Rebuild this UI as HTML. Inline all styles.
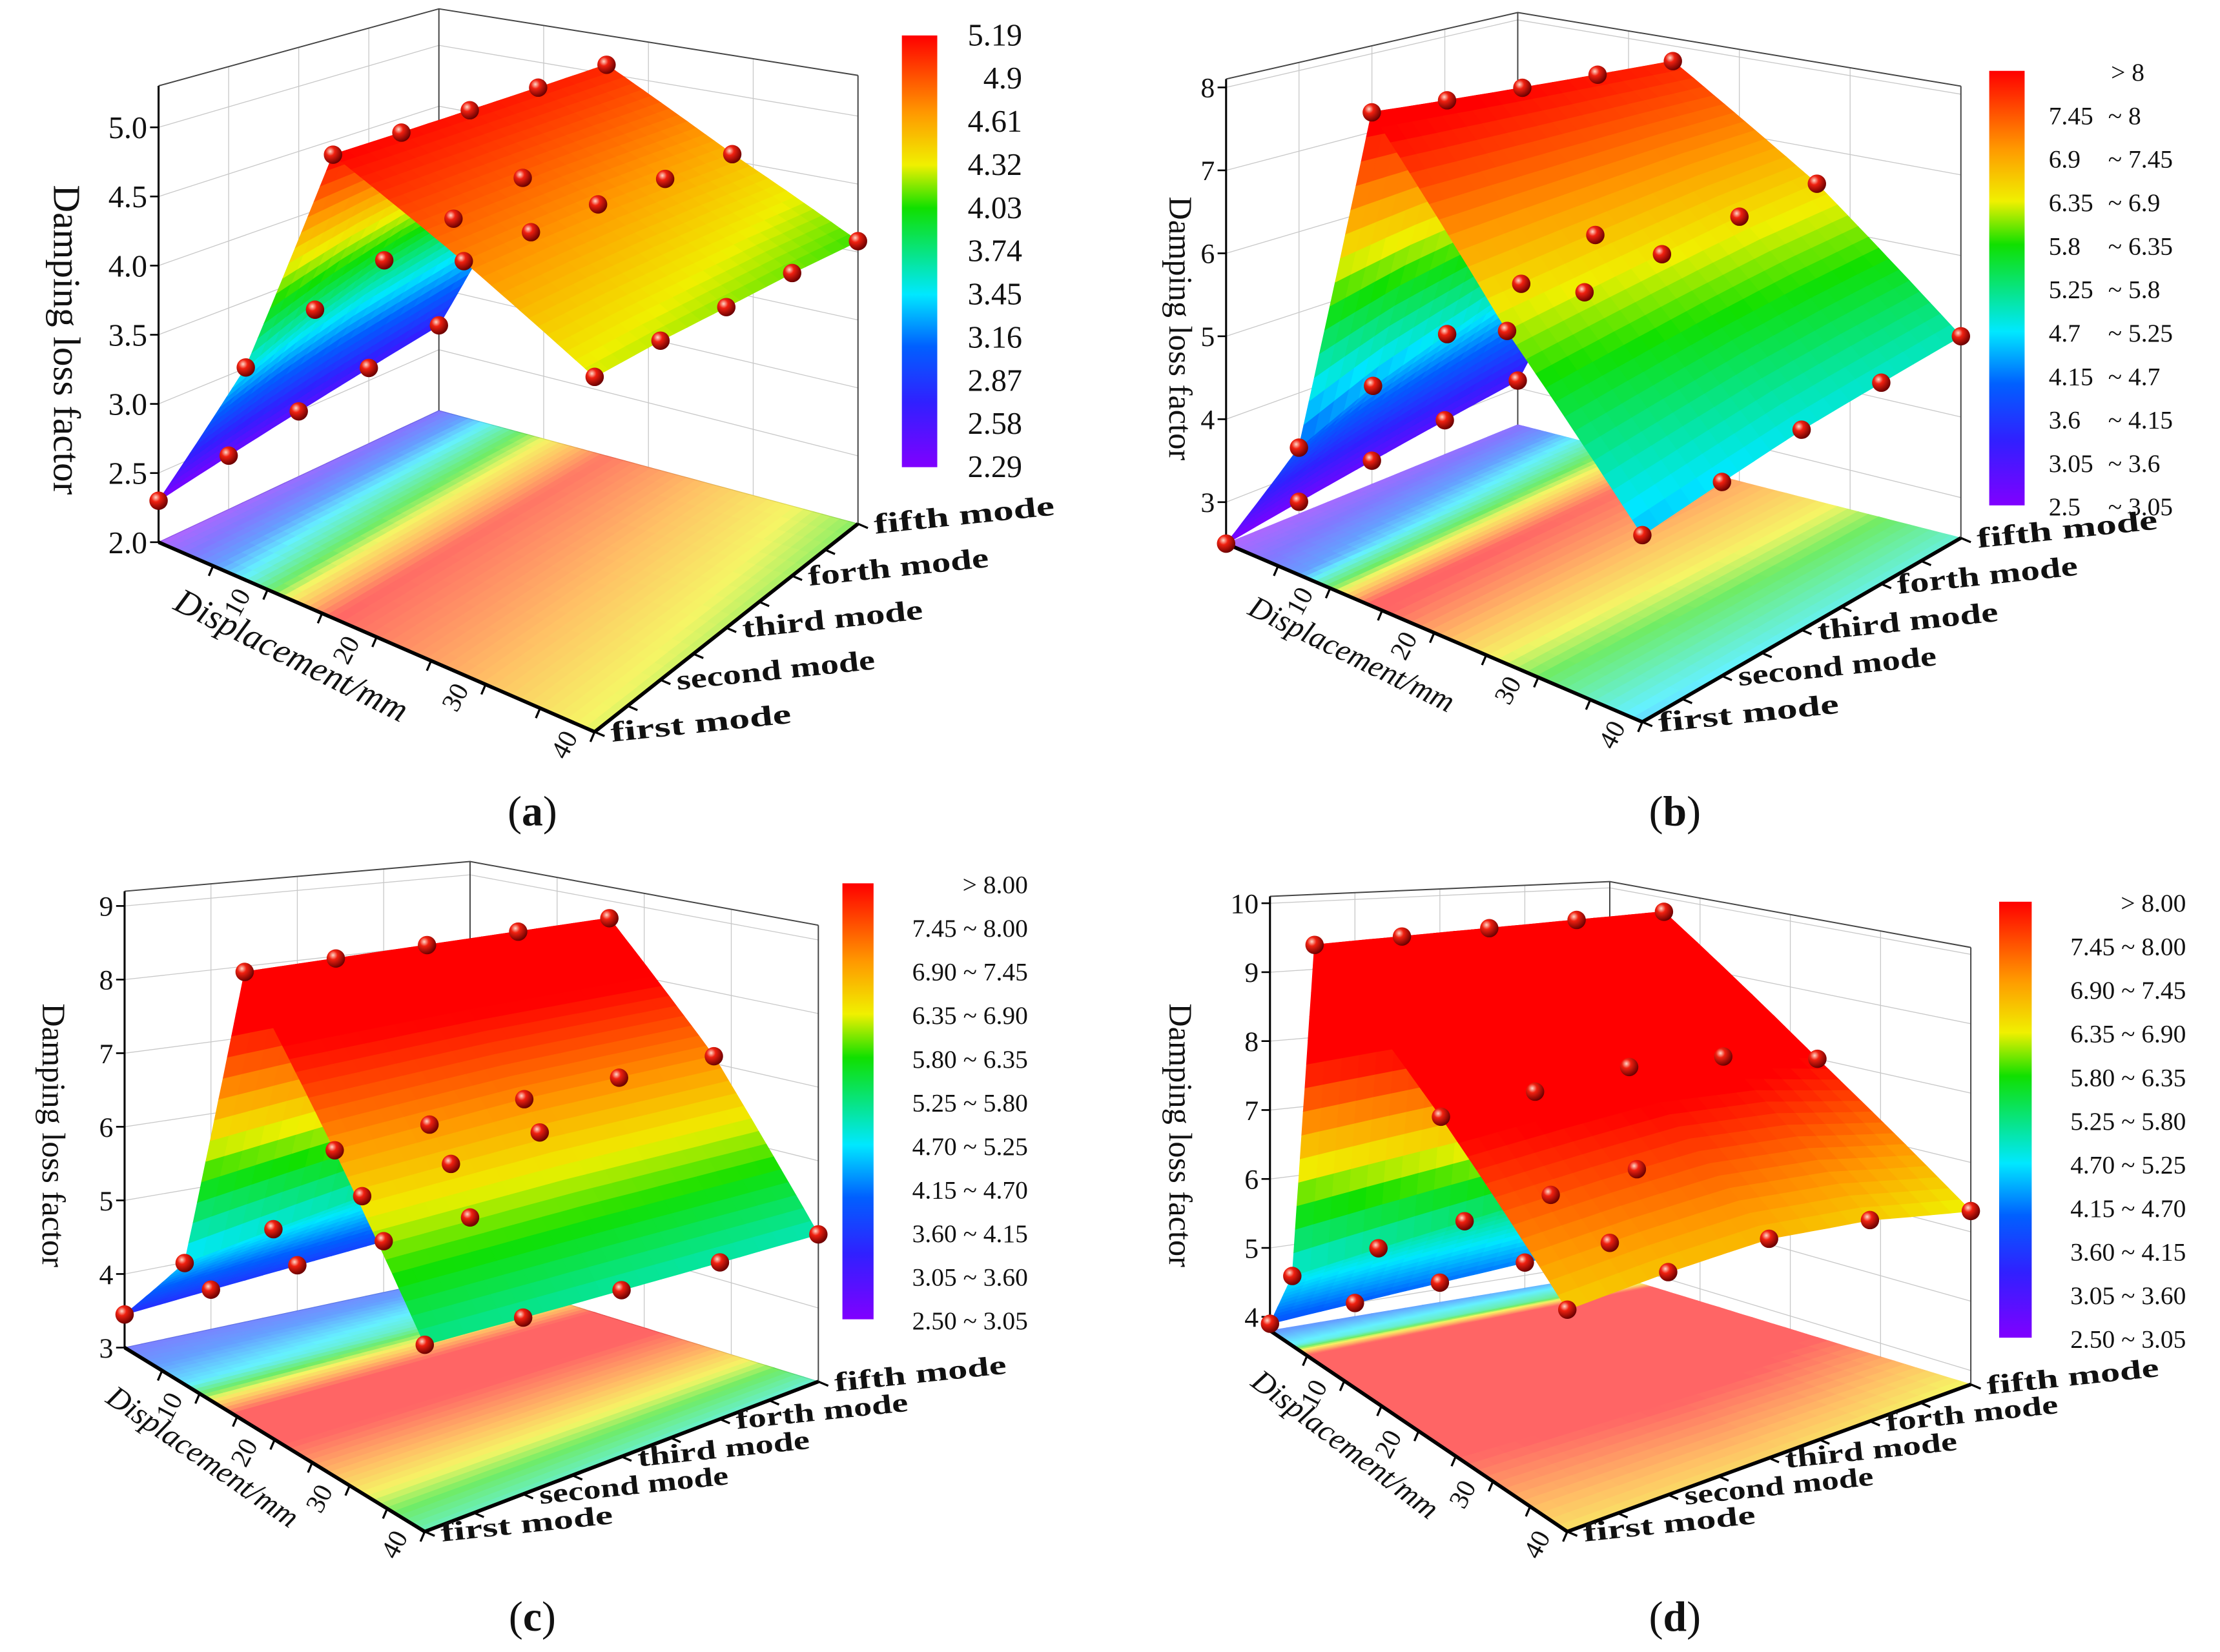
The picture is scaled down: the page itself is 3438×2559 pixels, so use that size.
<!DOCTYPE html>
<html><head><meta charset="utf-8"><style>
html,body{margin:0;padding:0;background:#fff}
svg{display:block}
text{font-family:"Liberation Serif",serif;fill:#111}
</style></head><body>
<svg id="fig" xmlns="http://www.w3.org/2000/svg" width="3438" height="2559" viewBox="0 0 1568 1167">
<defs>
<radialGradient id="ball" cx="35%" cy="32%" r="70%">
<stop offset="0" stop-color="#ffd8c8"/><stop offset="0.35" stop-color="#f02010"/><stop offset="1" stop-color="#6a0000"/>
</radialGradient>
<linearGradient id="cbar" x1="0" y1="1" x2="0" y2="0">
<stop offset="0" stop-color="#8000ff"/><stop offset="0.15" stop-color="#3020ff"/><stop offset="0.28" stop-color="#0060ff"/><stop offset="0.4" stop-color="#00e8ff"/><stop offset="0.6" stop-color="#10e000"/><stop offset="0.7" stop-color="#f0f000"/><stop offset="0.82" stop-color="#ff9900"/><stop offset="1" stop-color="#ff0000"/>
</linearGradient>
</defs>
</svg>
<script>
const modeLabels = ["first mode","second mode","third mode","forth mode","fifth mode"];
const dispTickValues = [10,20,30,40];

const dispA = [0, 8, 16, 28, 40];
const valuesA = [
 [2.30, 3.50, 5.19, 4.75, 4.28],
 [2.40, 3.70, 5.16, 4.72, 4.25],
 [2.50, 3.85, 5.13, 4.68, 4.20],
 [2.60, 3.95, 5.10, 4.62, 4.15],
 [2.70, 4.05, 5.07, 4.55, 4.08]];
const zTicksA = [2.0, 2.5, 3.0, 3.5, 4.0, 4.5, 5.0];
const zTickLabelsA = ["2.0","2.5","3.0","3.5","4.0","4.5","5.0"];
const cbarLabelsA = ["5.19","4.9","4.61","4.32","4.03","3.74","3.45","3.16","2.87","2.58","2.29"];

const dispB = [0, 7, 14, 27, 40];
const valuesB = [
 [2.50, 4.00, 8.20, 6.20, 4.50],
 [2.65, 4.40, 8.10, 6.30, 4.65],
 [2.80, 4.70, 8.00, 6.40, 4.80],
 [2.95, 5.00, 7.90, 6.50, 4.90],
 [3.10, 5.30, 7.80, 6.55, 5.00]];
const zTicksB = [3, 4, 5, 6, 7, 8];
const zTickLabelsB = ["3","4","5","6","7","8"];
const cbarLabelsB = [["> 8",""],["7.45","~ 8"],["6.9","~ 7.45"],["6.35","~ 6.9"],["5.8","~ 6.35"],["5.25","~ 5.8"],["4.7","~ 5.25"],["4.15","~ 4.7"],["3.6","~ 4.15"],["3.05","~ 3.6"],["2.5","~ 3.05"]];

const dispC = [0, 8, 16, 28, 40];
const valuesC = [
 [3.45, 4.60, 8.75, 7.00, 5.20],
 [3.55, 4.80, 8.75, 7.05, 5.15],
 [3.65, 5.00, 8.75, 7.10, 5.10],
 [3.75, 5.20, 8.75, 7.10, 5.05],
 [3.85, 5.40, 8.75, 7.10, 5.00]];
const zTicksC = [3, 4, 5, 6, 7, 8, 9];
const zTickLabelsC = ["3","4","5","6","7","8","9"];

const dispD = [0, 3, 6, 23, 40];
const valuesD = [
 [3.90, 4.80, 9.70, 8.20, 6.60],
 [4.00, 5.00, 9.72, 8.30, 6.70],
 [4.10, 5.20, 9.74, 8.40, 6.75],
 [4.20, 5.40, 9.76, 8.30, 6.60],
 [4.30, 5.60, 9.78, 8.00, 6.30]];
const zTicksD = [4, 5, 6, 7, 8, 9, 10];
const zTickLabelsD = ["4","5","6","7","8","9","10"];
const cbarLabelsCD = ["> 8.00","7.45 ~ 8.00","6.90 ~ 7.45","6.35 ~ 6.90","5.80 ~ 6.35","5.25 ~ 5.80","4.70 ~ 5.25","4.15 ~ 4.70","3.60 ~ 4.15","3.05 ~ 3.60","2.50 ~ 3.05"];

const NS="http://www.w3.org/2000/svg";
const svg=document.getElementById('fig');
function mk(tag,attrs,parent){const e=document.createElementNS(NS,tag);for(const k in attrs)e.setAttribute(k,attrs[k]);(parent||svg).appendChild(e);return e;}

const stops=[[0,[128,0,255]],[0.15,[48,32,255]],[0.28,[0,96,255]],[0.4,[0,232,255]],[0.6,[16,224,0]],[0.7,[240,240,0]],[0.82,[255,153,0]],[1,[255,0,0]]];
function cmap(t){t=Math.max(0,Math.min(1,t));for(let i=1;i<stops.length;i++){if(t<=stops[i][0]){const a=stops[i-1],b=stops[i];const f=(t-a[0])/(b[0]-a[0]);const c=a[1].map((v,k)=>Math.round(v+(b[1][k]-v)*f));return 'rgb('+c.join(',')+')';}}return 'rgb(255,0,0)';}

const panels=[
 {id:'a',disp:dispA,vals:valuesA,zmin:2.0,ztop:5.3,cmin:2.29,cmax:5.19,A:[112,383],B:[420,517],C:[606,370],D:[310,290],k:[97.7,110,96,86],zTicks:zTicksA,zLab:zTickLabelsA,zfs:22,
  ztitle:[38,240,27],cap:[376,583],cb:{x:637,y:25,w:25,h:305,type:'a',lx:722}},
 {id:'b',disp:dispB,vals:valuesB,zmin:2.5,ztop:8.1,cmin:2.5,cmax:8,A:[866,384],B:[1160,510],C:[1385,380],D:[1072,300],k:[58.6,66,57,52],zTicks:zTicksB,zLab:zTickLabelsB,zfs:20,
  ztitle:[826,232,23],cap:[1183,583],cb:{x:1405,y:50,w:25,h:307,type:'b',lx:1447}},
 {id:'c',disp:dispC,vals:valuesC,zmin:3,ztop:9.2,cmin:2.5,cmax:8,A:[88,952],B:[300,1082],C:[578,976],D:[332,900],k:[52,60,52,47],zTicks:zTicksC,zLab:zTickLabelsC,zfs:20,
  ztitle:[30,802,23],cap:[376,1152],cb:{x:595,y:624,w:22,h:308,type:'c',lx:726}},
 {id:'d',disp:dispD,vals:valuesD,zmin:3.8,ztop:10.1,cmin:2.5,cmax:8,A:[897,940],B:[1107,1082],C:[1392,978],D:[1137,900],k:[48.7,56,49,44],zTicks:zTicksD,zLab:zTickLabelsD,zfs:20,
  ztitle:[826,802,23],cap:[1183,1152],cb:{x:1412,y:637,w:23,h:308,type:'d',lx:1544}}
];

function P(p,d,m,z){const u=d/40,v=(m-1)/4;const w=[(1-u)*(1-v),u*(1-v),u*v,(1-u)*v];const pts=[p.A,p.B,p.C,p.D];let x=0,y=0,k=0;for(let i=0;i<4;i++){x+=w[i]*pts[i][0];y+=w[i]*pts[i][1];k+=w[i]*p.k[i];}return [x,y-(z-p.zmin)*k];}
function pstr(a){return a.map(q=>q[0].toFixed(1)+','+q[1].toFixed(1)).join(' ');}

panels.forEach(p=>{
 const g=mk('g',{});
 
 
 const grid=mk('g',{stroke:'#c8c8c8','stroke-width':0.6,fill:'none'},g);
 
 
 p.zTicks.forEach(z=>{const a=P(p,0,1,z),b=P(p,0,5,z),c=P(p,40,5,z);mk('polyline',{points:pstr([a,b,c])},grid);});
 [2,3,4].forEach(m=>{const a=P(p,0,m,p.zmin),b=P(p,0,m,p.ztop);mk('line',{x1:a[0],y1:a[1],x2:b[0],y2:b[1]},grid);});
 [10,20,30].forEach(d=>{const a=P(p,d,5,p.zmin),b=P(p,d,5,p.ztop);mk('line',{x1:a[0],y1:a[1],x2:b[0],y2:b[1]},grid);});
 const box=mk('g',{stroke:'#444','stroke-width':0.9,fill:'none'},g);
 
 
 mk('polyline',{points:pstr([P(p,0,1,p.ztop),P(p,0,5,p.ztop),P(p,40,5,p.ztop)])},box);
 [[0,1],[0,5],[40,5]].forEach(c=>{const a=P(p,c[0],c[1],p.zmin),b=P(p,c[0],c[1],p.ztop);mk('line',{x1:a[0],y1:a[1],x2:b[0],y2:b[1]},box);});
 const floor=mk('g',{opacity:0.6},g);
 
 
 const surfQ=[];
 const nd=14,nm=5;
 for(let i=0;i<4;i++)for(let j=0;j<4;j++){
  const d0=p.disp[j],d1=p.disp[j+1];
  for(let a=0;a<nd;a++)for(let b=0;b<nm;b++){
   const ss=[a/nd,(a+1)/nd],tt=[b/nm,(b+1)/nm];
   const cs=[[ss[0],tt[0]],[ss[1],tt[0]],[ss[1],tt[1]],[ss[0],tt[1]]];
   let zs=[];const ptsS=[],ptsF=[];
   cs.forEach(c=>{const s=c[0],t=c[1];const z=p.vals[i][j]*(1-s)*(1-t)+p.vals[i][j+1]*s*(1-t)+p.vals[i+1][j+1]*s*t+p.vals[i+1][j]*(1-s)*t;zs.push(z);const d=d0+(d1-d0)*s,m=i+1+t;ptsS.push(P(p,d,m,z));ptsF.push(P(p,d,m,p.zmin));});
   const za=(zs[0]+zs[1]+zs[2]+zs[3])/4;const col=cmap((za-p.cmin)/(p.cmax-p.cmin));
   mk('polygon',{points:pstr(ptsF),fill:col,stroke:col,'stroke-width':0.5},floor);
   const dc=(d0+(d1-d0)*(ss[0]+ss[1])/2)/40,vc=(i+(tt[0]+tt[1])/2)/4;
   surfQ.push({pts:ptsS,col:col,depth:(1-dc)+vc});
  }
 }
 const ax=mk('g',{stroke:'#000',fill:'none'},g);
 
 
 const A0=P(p,0,1,p.zmin),B0=P(p,40,1,p.zmin),C0=P(p,40,5,p.zmin),At=P(p,0,1,p.ztop);
 mk('line',{x1:A0[0],y1:A0[1],x2:At[0],y2:At[1],'stroke-width':1.4},ax);
 mk('line',{x1:A0[0],y1:A0[1],x2:B0[0],y2:B0[1],'stroke-width':2.6},ax);
 mk('line',{x1:B0[0],y1:B0[1],x2:C0[0],y2:C0[1],'stroke-width':2.6},ax);
 for(let d=5;d<=40;d+=5){const q=P(p,d,1,p.zmin);mk('line',{x1:q[0],y1:q[1],x2:q[0]-3,y2:q[1]+7,'stroke-width':1.5},ax);}
 for(let m=1;m<=5;m+=0.5){const q=P(p,40,m,p.zmin);mk('line',{x1:q[0],y1:q[1],x2:q[0]+7,y2:q[1]+3,'stroke-width':1.5},ax);}
 p.zTicks.forEach((z,ix)=>{const q=P(p,0,1,z);mk('line',{x1:q[0],y1:q[1],x2:q[0]-6,y2:q[1],'stroke-width':1.2},ax);
  const t=mk('text',{x:q[0]-8,y:q[1]+p.zfs*0.35,'text-anchor':'end','font-size':p.zfs},g);t.textContent=p.zLab[ix];
  
  });
 dispTickValues.forEach(d=>{const q=P(p,d,1,p.zmin);const x=q[0]-16,y=q[1]+12;
  const t=mk('text',{x:x,y:y,'text-anchor':'middle','font-size':19,transform:'rotate(-62 '+x+' '+y+')'},g);t.textContent=String(d);
  
  });
 const small=(p.id==='c'||p.id==='d');
 modeLabels.forEach((lab,ix)=>{const q=P(p,40,ix+1,p.zmin);const x=q[0]+12,y=q[1]+7;
  const t=mk('text',{x:x,y:y,'font-size':small?19:20,'font-weight':'bold',textLength:lab.length*(small?12.2:12.8),lengthAdjust:'spacingAndGlyphs',transform:'rotate(-6 '+x+' '+y+')'},g);t.textContent=lab;
  
  });
 const ang=Math.atan2(B0[1]-A0[1],B0[0]-A0[0])*180/Math.PI;
 const mq=P(p,14,1,p.zmin);const len=Math.hypot(B0[0]-A0[0],B0[1]-A0[1]);const nx=-(B0[1]-A0[1])/len,ny=(B0[0]-A0[0])/len;
 const tx=mq[0]+nx*44,ty=mq[1]+ny*44;
 const dt=mk('text',{x:tx,y:ty,'text-anchor':'middle','font-size':p.id==='a'?25:22,'font-style':'italic',transform:'rotate('+(ang+3)+' '+tx+' '+ty+')'},g);dt.textContent='Displacement/mm';
 
 
 const zt=mk('text',{x:p.ztitle[0],y:p.ztitle[1],'text-anchor':'middle','font-size':p.ztitle[2],transform:'rotate(90 '+p.ztitle[0]+' '+p.ztitle[1]+')'},g);zt.textContent='Damping loss factor';
 
 
 const sg=mk('g',{},g);
 
 
 surfQ.sort((a,b)=>b.depth-a.depth).forEach(q=>{mk('polygon',{points:pstr(q.pts),fill:q.col,stroke:q.col,'stroke-width':0.6},sg);});
 const dg=mk('g',{},g);
 
 
 for(let i=0;i<5;i++)for(let j=0;j<5;j++){const q=P(p,p.disp[j],i+1,p.vals[i][j]);
  const c=mk('circle',{cx:q[0],cy:q[1],r:6.5,fill:'url(#ball)'},dg);
  
  }
 const cb=p.cb;
 const bar=mk('rect',{x:cb.x,y:cb.y,width:cb.w,height:cb.h,fill:'url(#cbar)'},g);
 
 
 const n=11;
 for(let k=0;k<n;k++){const y=cb.y+cb.h*k/(n-1)+7;let t;
  if(cb.type==='a'){t=mk('text',{x:cb.lx,y:y,'text-anchor':'end','font-size':22},g);t.textContent=cbarLabelsA[k];}
  else if(cb.type==='b'){t=mk('text',{x:cb.lx,y:y,'font-size':18},g);const l=cbarLabelsB[k];
   if(l[1]===''){t.setAttribute('x',cb.lx+44);t.textContent=l[0];}
   else{const s1=mk('tspan',{},t);s1.textContent=l[0];const s2=mk('tspan',{x:cb.lx+42},t);s2.textContent=l[1];}}
  else{t=mk('text',{x:cb.lx,y:y,'text-anchor':'end','font-size':18},g);t.textContent=cbarLabelsCD[k];}
  
  }
 const cp=mk('text',{x:p.cap[0],y:p.cap[1],'text-anchor':'middle','font-size':30},g);
 cp.appendChild(document.createTextNode('('));const bt=mk('tspan',{'font-weight':'bold'},cp);bt.textContent=p.id;cp.appendChild(document.createTextNode(')'));
 
 
});
</script>
</body></html>
